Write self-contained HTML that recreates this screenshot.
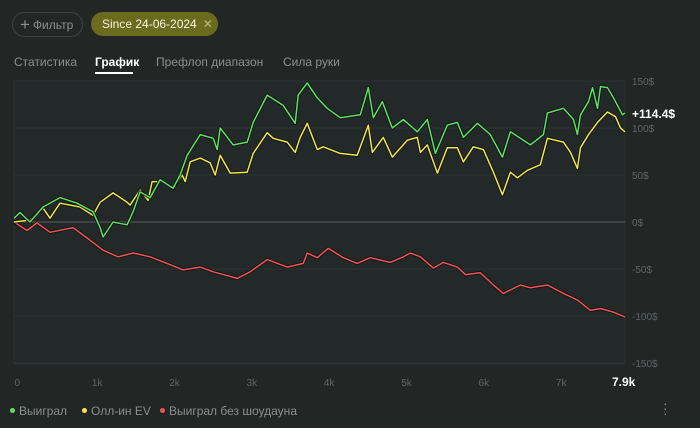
<!DOCTYPE html>
<html><head><meta charset="utf-8"><style>
body{margin:0;width:700px;height:428px;background:#222726;font-family:"Liberation Sans",sans-serif;overflow:hidden;position:relative}
.abs{position:absolute}
.btn{left:12px;top:12px;width:69px;height:23px;border:1px solid #3c4242;border-radius:13px;color:#8a8f8f;font-size:12px;line-height:23px;box-sizing:content-box}
.pill{left:91px;top:12px;width:127px;height:24px;background:#6b6b1f;border-radius:13px;color:#f4f4e0;font-size:12px;line-height:24px}
.tab{top:55px;font-size:12px;color:#8a8f8f}
.leg{top:404px;font-size:12px;color:#8a8f8f}
.dot{display:inline-block;width:5px;height:5px;border-radius:3px;margin-right:4px;vertical-align:2px}
</style></head><body>
<div class="abs btn"><span style="font-size:17px;margin:0 3px 0 7px;vertical-align:-1px">+</span>Фильтр</div>
<div class="abs pill"><span style="margin-left:11px">Since 24-06-2024</span><span style="margin-left:6px;color:#b8b88a">✕</span></div>
<div class="abs tab" style="left:14px">Статистика</div>
<div class="abs tab" style="left:95px;color:#fff;font-weight:bold">График</div>
<div class="abs" style="left:95px;top:72px;width:38px;height:2px;background:#fff"></div>
<div class="abs tab" style="left:156px">Префлоп диапазон</div>
<div class="abs tab" style="left:283px">Сила руки</div>
<svg class="abs" style="left:0;top:0" width="700" height="428" id="chart"></svg>
<div class="abs leg" style="left:10px"><span class="dot" style="background:#5de05d"></span>Выиграл</div>
<div class="abs leg" style="left:82px"><span class="dot" style="background:#f0e84a"></span>Олл-ин EV</div>
<div class="abs leg" style="left:160px"><span class="dot" style="background:#f05555"></span>Выиграл без шоудауна</div>
<div class="abs" style="left:663px;top:401px;color:#8a8f8f;font-size:14px;line-height:5px">·<br>·<br>·</div>
<script>
const xTicks=[0,1000,2000,3000,4000,5000,6000,7000];
const xTickLabels=["0","1k","2k","3k","4k","5k","6k","7k"];
const yTicks=[150,100,50,0,-50,-100,-150];
const yTickLabels=["150$","100$","50$","0$","-50$","-100$","-150$"];
const maxHands=7900;
const lastLabel="7.9k";
const finalValueLabel="+114.4$";
const greenHands=[0,78,207,375,595,815,1022,1113,1152,1281,1462,1540,1630,1760,1889,2057,2148,2239,2407,2575,2627,2666,2834,3015,3093,3274,3481,3636,3675,3791,3921,4050,4218,4477,4581,4645,4762,4891,5034,5215,5344,5448,5603,5732,5810,5991,6159,6315,6418,6548,6677,6845,6897,7104,7234,7285,7324,7428,7480,7544,7583,7674,7751,7868,7900];
const greenValues=[4,10,0,16,26,20,11,-6,-16,0,-3,11,32,26,45,36,50,71,93,89,77,100,82,85,106,135,124,105,135,148,132,121,111,114,143,111,128,100,109,96,109,73,103,106,90,105,93,69,96,89,82,93,116,121,109,93,114,128,143,121,144,143,132,114,116];
const yellowHands=[0,207,375,466,595,854,1022,1113,1281,1462,1501,1630,1734,1786,1928,2057,2174,2213,2278,2407,2536,2601,2666,2795,3015,3093,3274,3352,3533,3636,3701,3791,3921,3998,4218,4438,4581,4633,4775,4891,5085,5215,5254,5344,5474,5603,5732,5810,5939,6069,6198,6315,6418,6509,6638,6806,6897,7104,7195,7285,7324,7428,7544,7674,7777,7842,7900];
const yellowValues=[0,2,15,4,20,16,7,21,31,21,18,34,23,43,43,36,50,43,64,68,63,50,71,52,53,73,95,89,85,74,90,105,77,80,73,71,103,74,90,69,87,90,74,82,52,79,79,64,80,77,53,29,53,47,55,61,89,85,74,57,79,93,106,117,112,100,96];
const redHands=[0,168,298,466,763,945,1152,1346,1540,1760,1980,2187,2407,2575,2886,3054,3274,3533,3740,3791,3921,4063,4257,4438,4607,4865,5034,5124,5254,5422,5551,5732,5836,6030,6198,6328,6548,6677,6897,7104,7285,7454,7583,7751,7900];
const redValues=[0,-9,-1,-11,-6,-17,-30,-37,-33,-37,-44,-51,-48,-53,-60,-53,-40,-48,-44,-33,-38,-28,-38,-44,-38,-43,-37,-33,-37,-49,-43,-48,-56,-54,-67,-76,-67,-70,-67,-76,-83,-94,-92,-96,-101];

const X0=14,X1=625,Y0=222,PPV=0.94;
const xs=h=>X0+(X1-X0)*h/maxHands;
const ys=v=>Y0-v*PPV;
const svg=document.getElementById('chart');
const NS='http://www.w3.org/2000/svg';
function mk(t,a){const e=document.createElementNS(NS,t);for(const k in a)e.setAttribute(k,a[k]);svg.appendChild(e);return e;}
const bg=mk('rect',{x:X0,y:81,width:X1-X0,height:283,fill:'#232828',stroke:'#2b3030'});


yTicks.forEach((v,i)=>{
  const l=mk('line',{x1:X0,x2:X1,y1:ys(v),y2:ys(v),stroke:v===0?'#3d4242':'#2d3232','stroke-width':v===0?2:1});
  
  
  const t=mk('text',{x:632,y:ys(v)+4,fill:'#5f6565','font-size':10,'font-family':'Liberation Sans'});
  t.textContent=yTickLabels[i];
  
  
});
xTicks.forEach((h,i)=>{
  const t=mk('text',{x:xs(h)+0.5,y:386,fill:'#5f6565','font-size':10,'font-family':'Liberation Sans'});
  t.textContent=xTickLabels[i];
  
  
});
const ll=mk('text',{x:612,y:386,fill:'#fff','font-size':12,'font-weight':'bold','font-family':'Liberation Sans'});
ll.textContent=lastLabel;


function series(hs,vs,color,name){
  let d='';
  hs.forEach((h,i)=>{const x=xs(h),y=ys(vs[i]);d+=(i?'L':'M')+x.toFixed(1)+' '+y.toFixed(1);});
  const s=mk('path',{d:d,fill:'none',stroke:'#111414','stroke-width':3.2,'stroke-linejoin':'round'});
  
  
  const p=mk('path',{d:d,fill:'none',stroke:color,'stroke-width':1.5,'stroke-linejoin':'round'});
  
  
}
series(redHands,redValues,'#ef5454','line-won-no-showdown');
series(yellowHands,yellowValues,'#f0e64a','line-allin-ev');
series(greenHands,greenValues,'#5de060','line-won');
const fv=mk('text',{x:632,y:118,fill:'#fff','font-size':12,'font-weight':'bold','font-family':'Liberation Sans'});
fv.textContent=finalValueLabel;


</script>
</body></html>
